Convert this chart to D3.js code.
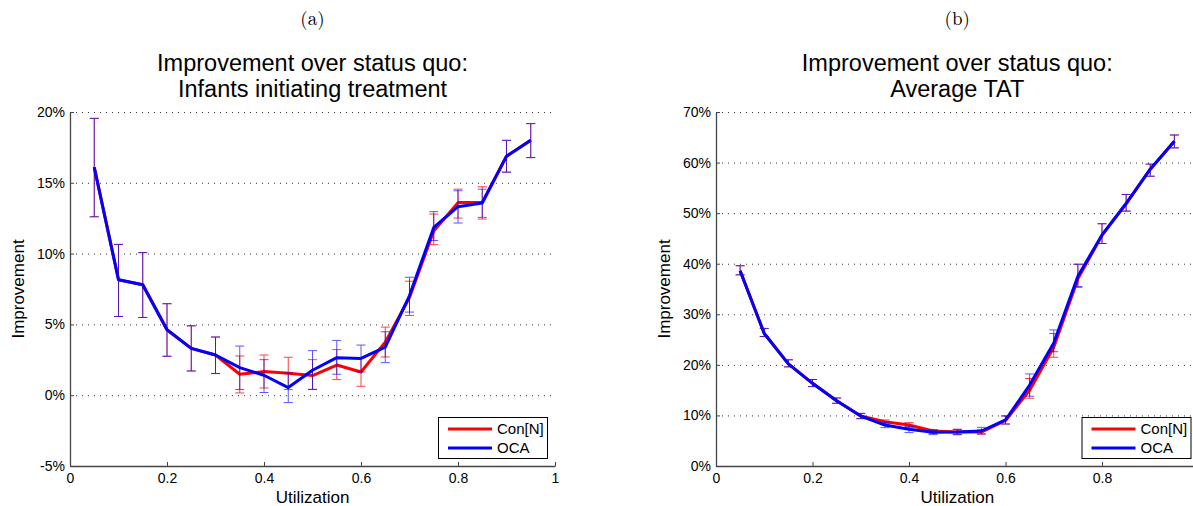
<!DOCTYPE html>
<html><head><meta charset="utf-8">
<script src="https://cdn.jsdelivr.net/npm/d3@7"></script>
<style>body{margin:0;background:#fff}svg{display:block}</style>
</head><body>
<svg id="c" width="1193" height="506"></svg>
<script>
const util = [0.05,0.10,0.15,0.20,0.25,0.30,0.35,0.40,0.45,0.50,0.55,0.60,0.65,0.70,0.75,0.80,0.85,0.90,0.95];

// Panel (a): Infants initiating treatment (%)
const infConMean = [16.1,8.15,7.8,4.62,3.31,2.84,1.48,1.67,1.55,1.39,2.13,1.64,3.75,6.9,11.6,13.6,13.62,16.88,18.0];
const infConLo   = [12.6,5.56,5.49,2.75,1.71,1.53,0.16,0.51,0.4,0.4,1.1,0.63,2.7,5.63,10.63,12.51,12.44,15.75,16.78];
const infConHi   = [19.55,10.65,10.07,6.46,4.9,4.11,2.77,2.84,2.68,2.51,3.22,2.65,4.81,8.05,12.79,14.55,14.72,18.0,19.18];
const infOcaMean = [16.1,8.15,7.8,4.62,3.31,2.84,1.95,1.41,0.54,1.76,2.65,2.6,3.4,7.04,11.85,13.31,13.57,16.88,18.0];
const infOcaLo   = [12.6,5.56,5.49,2.75,1.71,1.53,0.4,0.19,-0.52,0.42,1.48,1.64,2.3,5.87,10.92,12.16,12.56,15.75,16.78];
const infOcaHi   = [19.55,10.65,10.07,6.46,4.9,4.11,3.47,2.51,1.57,3.15,3.87,3.54,4.48,8.33,12.96,14.44,14.55,18.0,19.18];

// Panel (b): Average TAT (%)
const tatConMean = [38.6,26.2,20.2,16.35,12.9,9.89,8.77,8.1,6.92,6.72,6.7,9.0,15.0,23.5,37.0,45.6,51.9,58.7,64.2];
const tatConLo   = [37.8,25.6,19.6,15.7,12.4,9.36,8.3,7.65,6.4,6.2,6.3,8.3,13.4,21.5,35.3,44.0,50.4,57.3,62.9];
const tatConHi   = [39.6,27.2,21.0,17.1,13.45,10.4,9.1,8.57,7.2,7.25,7.2,9.9,17.3,26.2,39.9,47.9,53.7,59.7,65.45];
const tatOcaMean = [38.6,26.2,20.2,16.35,12.9,9.89,8.1,7.25,6.66,6.72,6.92,9.1,16.0,24.3,37.5,45.7,51.9,58.7,64.2];
const tatOcaLo   = [37.8,25.6,19.6,15.7,12.4,9.36,7.58,6.6,6.2,6.2,6.33,8.3,13.8,22.6,35.5,44.0,50.4,57.3,62.9];
const tatOcaHi   = [39.6,27.2,21.0,17.1,13.45,10.4,8.57,7.78,7.1,7.25,7.65,9.9,18.2,26.9,39.9,47.9,53.7,59.7,65.45];

const seriesNames = ["Con[N]","OCA"];
const seriesColors = ["#ff0000","#0000ff"];

const yTicksA = [-5,0,5,10,15,20];
const yTicksB = [0,10,20,30,40,50,60,70];
const xTicksA = [0,0.2,0.4,0.6,0.8,1];
const xTicksB = [0,0.2,0.4,0.6,0.8];

const panels = [
  {tag:"(a)", title:["Improvement over status quo:","Infants initiating treatment"],
   x0:70, x1:555, yDom:[-5,20], yTicks:yTicksA, xTicks:xTicksA,
   series:[[infConMean,infConLo,infConHi],[infOcaMean,infOcaLo,infOcaHi]]},
  {tag:"(b)", title:["Improvement over status quo:","Average TAT"],
   x0:716, x1:1198.5, yDom:[0,70], yTicks:yTicksB, xTicks:xTicksB,
   series:[[tatConMean,tatConLo,tatConHi],[tatOcaMean,tatOcaLo,tatOcaHi]]}
];

const svg = d3.select("#c");
const FONT = "'Liberation Sans', Arial, Helvetica, sans-serif";
const yTop = 112, yBot = 466;

panels.forEach(p => {
  const x = d3.scaleLinear().domain([0,1]).range([p.x0,p.x1]);
  const y = d3.scaleLinear().domain(p.yDom).range([yBot,yTop]);
  const cx = (p.x0+p.x1)/2;
  const g = svg.append("g");

  // tag and title
  g.append("text").attr("x",cx).attr("y",25).attr("text-anchor","middle")
    .attr("font-family","'Latin Modern Roman','DejaVu Serif','Liberation Serif',serif").attr("font-size",19).text(p.tag);
  p.title.forEach((t,i)=>{
    g.append("text").attr("x",cx).attr("y",71+i*26).attr("text-anchor","middle")
      .attr("font-family",FONT).attr("font-size",23.5).attr("fill","#000").text(t);
  });

  // grid
  g.append("g").selectAll("line").data(p.yTicks.filter(v=>v!==p.yDom[0])).join("line")
    .attr("x1",p.x0).attr("x2",p.x1).attr("y1",d=>y(d)+0.5).attr("y2",d=>y(d)+0.5)
    .attr("stroke","#333").attr("stroke-width",1).attr("stroke-dasharray","1,5");

  // axes
  const ya = g.append("g").attr("transform",`translate(${p.x0},0)`)
    .call(d3.axisLeft(y).tickValues(p.yTicks).tickFormat(d=>d+"%").tickSizeInner(-4).tickSizeOuter(0).tickPadding(5));
  const xa = g.append("g").attr("transform",`translate(0,${yBot})`)
    .call(d3.axisBottom(x).tickValues(p.xTicks).tickFormat(d=>d===0?"0":(d===1?"1":d3.format(".1f")(d))).tickSizeInner(-4).tickSizeOuter(0).tickPadding(7));
  [ya,xa].forEach(a=>{
    a.selectAll("path").attr("stroke","#444").attr("stroke-width",1.3);
    a.selectAll("line").attr("stroke","#444");
    a.selectAll("text").attr("font-family",FONT).attr("font-size",14).attr("fill","#000");
  });

  // axis labels
  g.append("text").attr("x",cx).attr("y",503).attr("text-anchor","middle")
    .attr("font-family",FONT).attr("font-size",17).text("Utilization");
  g.append("text").attr("transform",`translate(${p.x0-46},${(yTop+yBot)/2}) rotate(-90)`)
    .attr("text-anchor","middle").attr("font-family",FONT).attr("font-size",17).text("Improvement");

  // series
  const line = d3.line().x((d,i)=>x(util[i])).y(d=>y(d));
  p.series.forEach((s,si)=>{
    const [m,lo,hi] = s;
    const col = seriesColors[si];
    const eb = g.append("g").attr("stroke",col).attr("stroke-width",1).attr("opacity",si===0?0.75:0.65);
    util.forEach((u,i)=>{
      const xx = x(u);
      eb.append("line").attr("x1",xx).attr("x2",xx).attr("y1",y(lo[i])).attr("y2",y(hi[i]));
      eb.append("line").attr("x1",xx-4.5).attr("x2",xx+4.5).attr("y1",y(lo[i])).attr("y2",y(lo[i]));
      eb.append("line").attr("x1",xx-4.5).attr("x2",xx+4.5).attr("y1",y(hi[i])).attr("y2",y(hi[i]));
    });
    g.append("path").datum(m).attr("d",line).attr("fill","none")
      .attr("stroke",col).attr("stroke-width",3).attr("stroke-linejoin","round");
  });

  // legend
  const lx1 = p.x1-8, lx0 = lx1-109, ly1 = yBot-8, ly0 = ly1-41;
  const lg = g.append("g");
  lg.append("rect").attr("x",lx0+0.5).attr("y",ly0+0.5).attr("width",109).attr("height",41)
    .attr("fill","#fff").attr("stroke","#000").attr("stroke-width",1);
  seriesNames.forEach((n,i)=>{
    const yy = ly0+12+i*19;
    lg.append("line").attr("x1",lx0+10).attr("x2",lx0+54).attr("y1",yy).attr("y2",yy)
      .attr("stroke",seriesColors[i]).attr("stroke-width",3);
    lg.append("text").attr("x",lx0+59).attr("y",yy+5).attr("font-family",FONT).attr("font-size",15).text(n);
  });
});
</script>
</body></html>
